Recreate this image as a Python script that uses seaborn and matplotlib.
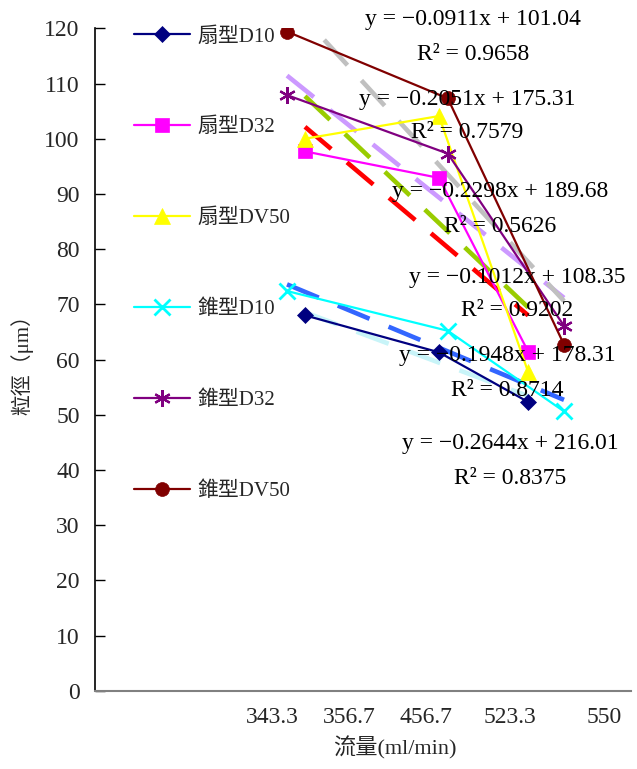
import numpy as np
import pandas as pd
import matplotlib
matplotlib.use("Agg")
import matplotlib.pyplot as plt
import seaborn as sns

# Flow rates (ml/min) for the two nozzle types
fan_flow = [356.7, 456.7, 523.3]
cone_flow = [343.3, 463.3, 550.0]

# Droplet sizes (μm)
fan_d10 = [68.0, 61.3, 52.3]
fan_d32 = [97.7, 92.9, 61.4]
fan_dv50 = [100.0, 104.1, 57.7]
cone_d10 = [72.4, 65.2, 50.6]
cone_d32 = [107.9, 97.3, 66.1]
cone_dv50 = [119.4, 107.3, 62.7]

series_names = ["扇型D10", "扇型D32", "扇型DV50", "錐型D10", "錐型D32", "錐型DV50"]

# Linear trendlines: slope, intercept, R²
trend_slope = [-0.0911, -0.2051, -0.2298, -0.1012, -0.1948, -0.2644]
trend_intercept = [101.04, 175.31, 189.68, 108.35, 178.31, 216.01]
trend_r2 = [0.9658, 0.7579, 0.5626, 0.9202, 0.8714, 0.8375]

x_tick_labels = ["343.3", "356.7", "456.7", "523.3", "550"]

sns.set_theme(style="white")
plt.rcParams["font.family"] = ["Liberation Serif", "Noto Sans CJK TC"]

rows = []
for name, flows, vals in zip(
    series_names,
    [fan_flow, fan_flow, fan_flow, cone_flow, cone_flow, cone_flow],
    [fan_d10, fan_d32, fan_dv50, cone_d10, cone_d32, cone_dv50],
):
    for f, v in zip(flows, vals):
        rows.append({"series": name, "flow": f, "size": v})
df = pd.DataFrame(rows)

line_colors = ["#000080", "#ff00ff", "#ffff00", "#00ffff", "#800080", "#800000"]
markers = ["D", "s", "^", "x", (6, 2, 0), "o"]
msizes = [8, 10, 11, 11, 12, 10]
trend_colors = ["#c8f4f8", "#ff0000", "#99cc00", "#3366ff", "#cc99ff", "#c0c0c0"]

fig = plt.figure(figsize=(6.37, 7.69), dpi=100)
ax = fig.add_axes([95 / 637, 1 - 690.7 / 769, (631 - 95) / 637, (690.7 - 28.3) / 769])

# Trendlines drawn from the stated equations over each series' flow range
for i, name in enumerate(series_names):
    flows = np.array(fan_flow if i < 3 else cone_flow)
    xs = np.array([flows.min(), flows.max()])
    ys = trend_slope[i] * xs + trend_intercept[i]
    ax.plot(xs, ys, color=trend_colors[i], lw=3.3, dashes=(7.5, 4.5),
            solid_capstyle="butt", dash_capstyle="butt", zorder=2)

for i, name in enumerate(series_names):
    sub = df[df["series"] == name]
    sns.lineplot(data=sub, x="flow", y="size", ax=ax, color=line_colors[i],
                 marker=markers[i], markersize=msizes[i], lw=1.6,
                 markeredgecolor=line_colors[i],
                 markeredgewidth=2 if i == 3 else (1.6 if i == 4 else 0.5),
                 label=name, zorder=3, sort=False)

# Trendline equation labels
eq_pos = [(473, 20, 54), (467, 100, 133), (500, 192, 226),
          (517, 277, 310), (507, 355, 390), (510, 443, 478)]
for i, (px, py1, py2) in enumerate(eq_pos):
    sign = "+" if trend_intercept[i] >= 0 else "−"
    eq = f"y = −{abs(trend_slope[i]):.4f}x {sign} {abs(trend_intercept[i]):.2f}"
    r2 = f"R² = {trend_r2[i]:.4f}"
    fig.text(px / 637, 1 - py1 / 769, eq, ha="center", va="center", fontsize=17,
             color="black", zorder=1)
    fig.text(px / 637, 1 - py2 / 769, r2, ha="center", va="center", fontsize=17,
             color="black", zorder=1)

ax.set_xlim(200, 600)
ax.set_ylim(0, 120)
ax.set_yticks(np.arange(0, 121, 10))
ax.tick_params(axis="y", direction="in", length=7, width=1, color="black",
               labelsize=17, pad=11, left=True)
tick_px = [272, 349, 426, 510, 604]
ax.set_xticks([(p - 95) / 1.34 + 200 for p in tick_px])
ax.set_xticklabels(x_tick_labels)
ax.tick_params(axis="x", length=0, labelsize=17, pad=12)

for s in ["top", "right"]:
    ax.spines[s].set_visible(False)
ax.spines["left"].set_color("black")
ax.spines["bottom"].set_color("#808080")
ax.spines["left"].set_linewidth(1.2)
ax.spines["bottom"].set_linewidth(1.5)
ax.set_xlabel("流量(ml/min)", fontsize=16)
ax.xaxis.set_label_coords((395 - 95) / 536, (690.7 - 748) / 662.4)
ax.xaxis.label.set_va("center")
ax.set_ylabel("粒徑（μm）", fontsize=15)
ax.yaxis.set_label_coords((22 - 95) / 536, (690.7 - 360) / 662.4)
ax.yaxis.label.set_va("center")
ax.grid(False)

leg = ax.legend(loc="upper left", bbox_to_anchor=(134 / 637, 1 - 27 / 769),
                bbox_transform=fig.transFigure, frameon=False, fontsize=15,
                handlelength=2.7, handletextpad=0.35, labelspacing=3.42,
                borderpad=0, borderaxespad=0)

fig.savefig("out.png", dpi=100)
